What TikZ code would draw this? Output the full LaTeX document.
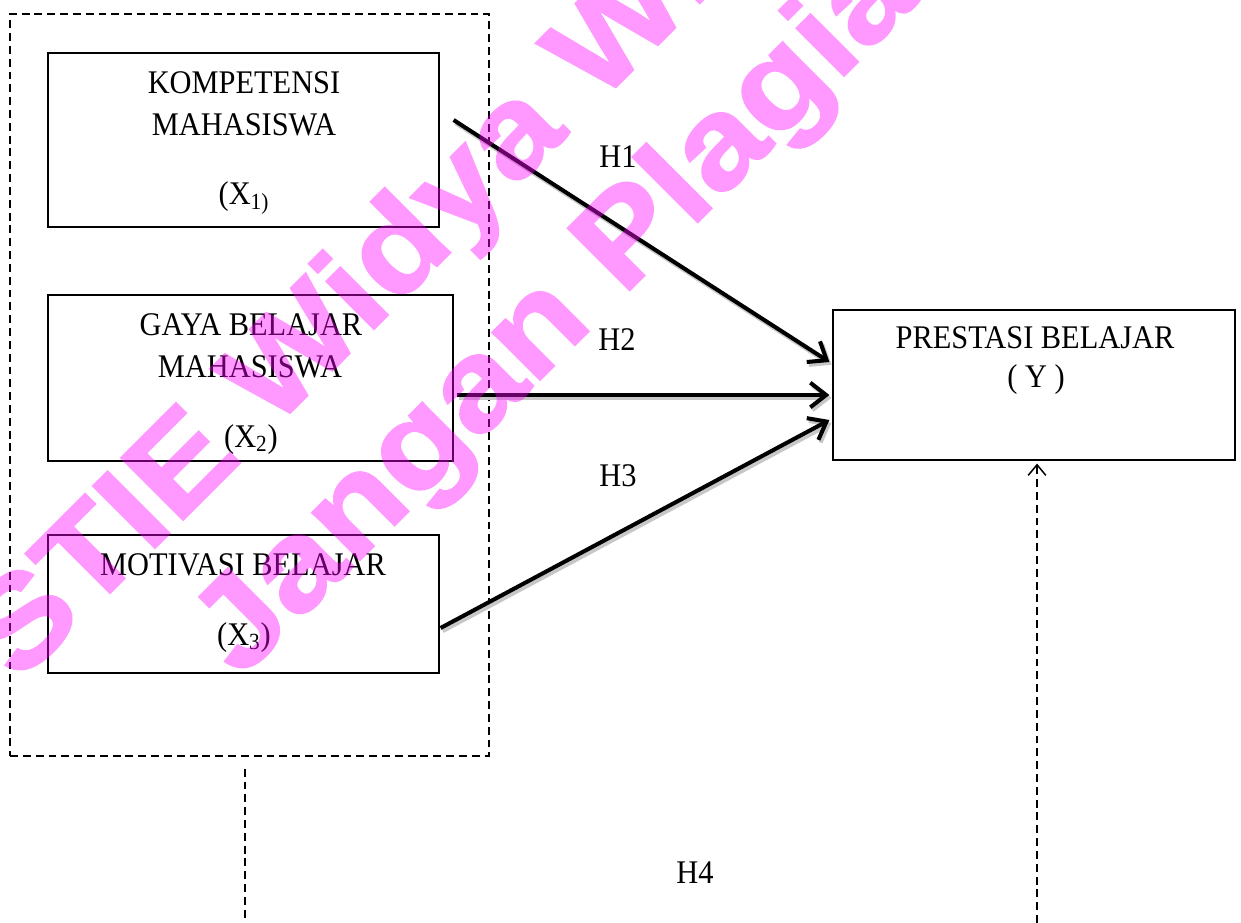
\documentclass[tikz,border=0pt]{standalone}
\usepackage{fontspec}
\newfontfamily\tnr[FakeStretch=0.92]{Liberation Serif}
\newfontfamily\wmfont[FakeStretch=1.125, BoldFeatures={FakeBold=1.6}]{Liberation Sans}
\usetikzlibrary{arrows.meta,calc}
\definecolor{wmc}{RGB}{255,0,255}
\begin{document}
\begin{tikzpicture}[x=0.02cm,y=-0.02cm,
  box/.style={draw, line width=0.7pt, inner sep=0pt},
  group/.style={draw, dashed, dash pattern=on 4.5pt off 2.8pt, line width=0.85pt, inner sep=0pt},
  txt/.style={font=\tnr\fontsize{18.8pt}{22pt}\selectfont, anchor=base, inner sep=0pt},
  arr/.style={line width=2.3pt, -{Straight Barb[length=9pt,width=14pt,line width=2.3pt]},
    preaction={draw=black!22, line width=2.6pt, transform canvas={shift={(1.2pt,-1.6pt)}}}},
  dline/.style={dashed, dash pattern=on 4.5pt off 2.8pt, line width=0.85pt},
  wm/.style={font=\wmfont\bfseries\fontsize{72.5pt}{76pt}\selectfont, text=wmc, inner sep=0pt, anchor=base west, rotate=45}]
\useasboundingbox (0,0) rectangle (1241,923);
\fill[white] (0,0) rectangle (1241,923);

% group box
\node[group, minimum width=9.58cm, minimum height=14.84cm] (grp) at (249.5,385) {};

% boxes
\node[box, minimum width=7.82cm, minimum height=3.48cm] (x1) at (243.5,140) {};
\node[box, minimum width=8.10cm, minimum height=3.32cm] (x2) at (250.5,378) {};
\node[box, minimum width=7.82cm, minimum height=2.76cm] (x3) at (243.5,604) {};
\node[box, minimum width=8.04cm, minimum height=3.00cm] (y) at (1034,385) {};

% texts
\node[txt] (t11) at (244,93) {KOMPETENSI};
\node[txt] (t12) at (244,135) {MAHASISWA};
\node[txt] (t13) at (244,204) {(X\textsubscript{1)}};
\node[txt] (t21) at (251,335) {GAYA BELAJAR};
\node[txt] (t22) at (250,377) {MAHASISWA};
\node[txt] (t23) at (251,447) {(X\textsubscript{2})};
\node[txt] (t31) at (243,575) {MOTIVASI BELAJAR};
\node[txt] (t32) at (244,645) {(X\textsubscript{3})};
\node[txt] (ty1) at (1035,348) {PRESTASI BELAJAR};
\node[txt] (ty2) at (1036,387) {( Y )};

% hypothesis labels
\node[txt] (h1) at (618,167) {H1};
\node[txt] (h2) at (617,350) {H2};
\node[txt] (h3) at (618,486) {H3};
\node[txt] (h4) at (695,883) {H4};

% arrows
\draw[arr] ([shift={(14,-20)}]x1.east) -- ([shift={(-3,-23)}]y.west);
\draw[arr] ([shift={(3,17)}]x2.east) -- ([shift={(-3,10)}]y.west);
\draw[arr] ([shift={(1,24)}]x3.east) -- ([shift={(-3,35)}]y.west);

% dashed connectors
\coordinate (b1) at (245,923);
\coordinate (b2) at (1037,923);
\draw[dline] ([shift={(-4.5,12)}]grp.south) -- (b1);
\draw[dline, -{Straight Barb[length=6pt,width=10pt,line width=0.85pt]}] (b2) -- ([shift={(3,3)}]y.south);

% watermark
\begin{scope}[transparency group, opacity=0.4]
\clip (0,0) rectangle (1241,923);
\node[wm] (wm1) at (18.5,684.5) {STIE Widya Wiwaha};
\node[wm] (wm2) at (240,680) {Jangan Plagiat};
\end{scope}
\end{tikzpicture}
\end{document}
